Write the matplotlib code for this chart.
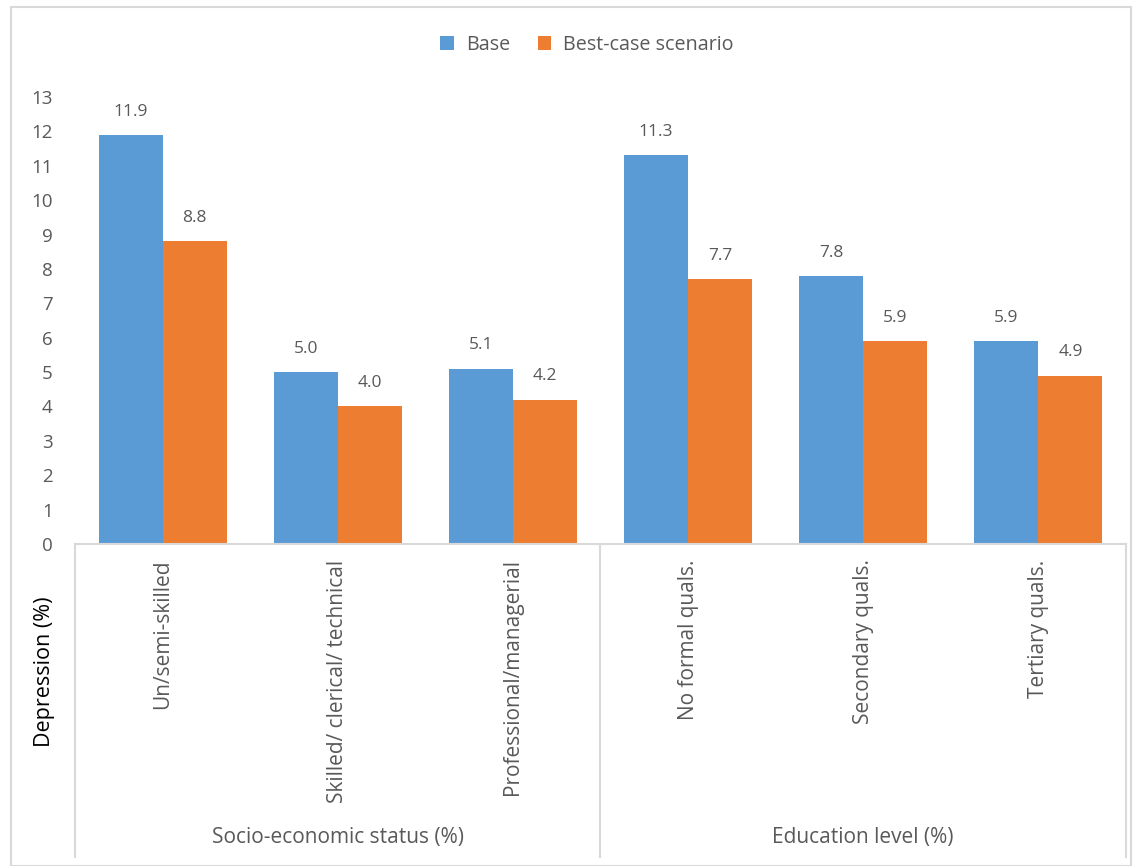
import matplotlib.pyplot as plt
from matplotlib.lines import Line2D
from matplotlib.patches import Rectangle
import numpy as np

plt.rcParams['font.family'] = ['Open Sans', 'DejaVu Sans']

# data
categories = ['Un/semi-skilled', 'Skilled/ clerical/ technical', 'Professional/managerial',
              'No formal quals.', 'Secondary quals.', 'Tertiary quals.']
groups = ['Socio-economic status (%)', 'Education level (%)']
group_sizes = [3, 3]
base = [11.9, 5.0, 5.1, 11.3, 7.8, 5.9]
best_case = [8.8, 4.0, 4.2, 7.7, 5.9, 4.9]
series_names = ['Base', 'Best-case scenario']
colors = ['#5B9BD5', '#ED7D31']
text_grey = '#595959'
line_grey = '#D9D9D9'

W, H = 1142, 866
fig = plt.figure(figsize=(W / 100, H / 100), dpi=100, facecolor='white')

def fx(px):
    return px / W

def fy(py):
    return 1 - py / H

# plot area in pixels
left, right, top, bottom = 75, 1126, 97, 544
ax = fig.add_axes([fx(left), fy(bottom), fx(right - left), (bottom - top) / H])

x = np.arange(len(categories))
bw = 0.365
b1 = ax.bar(x - bw / 2, base, bw, color=colors[0], label=series_names[0])
b2 = ax.bar(x + bw / 2, best_case, bw, color=colors[1], label=series_names[1])

for bars, vals in [(b1, base), (b2, best_case)]:
    for r, v in zip(bars, vals):
        ax.annotate(f'{v:.1f}', (r.get_x() + r.get_width() / 2, v),
                    xytext=(0, 11), textcoords='offset points',
                    ha='center', va='bottom', fontsize=12.5, color=text_grey)

ax.set_xlim(-0.5, len(categories) - 0.5)
ax.set_ylim(0, 13)
ax.set_yticks(range(0, 14))
ax.tick_params(axis='y', length=0, labelsize=13.5, labelcolor=text_grey, pad=16)
ax.set_xticks([])
for s in ['top', 'right', 'left']:
    ax.spines[s].set_visible(False)
ax.spines['bottom'].set_color(line_grey)
ax.spines['bottom'].set_linewidth(1.5)

# category labels, rotated
for i, c in enumerate(categories):
    ax.text(i, -0.45, c, rotation=90, ha='center', va='top', fontsize=15,
            color=text_grey, transform=ax.transData, clip_on=False)

# group separators and group labels
sep_bottom = 857
for px in [left, 600, right]:
    fig.add_artist(Line2D([fx(px), fx(px)], [fy(bottom), fy(sep_bottom)],
                          color=line_grey, lw=1.5))
start = 0
for g, n in zip(groups, group_sizes):
    t = ax.text(start + (n - 1) / 2, 0, g, transform=ax.get_xaxis_transform(), ha='center',
                va='center', fontsize=15, color=text_grey, clip_on=False)
    t.set_position((start + (n - 1) / 2, -(838 - bottom) / (bottom - top)))
    start += n

# outer chart border
fig.add_artist(Rectangle((fx(11), fy(866)), fx(1131 - 11), (866 - 7) / H,
                         fill=False, edgecolor=line_grey, lw=1.5))

fig.text(fx(45), fy(672), 'Depression (%)', rotation=90, ha='center', va='center',
         fontsize=15.5, color='black')

fig.legend(loc='center', bbox_to_anchor=(fx(587), fy(45)), ncol=2, frameon=False,
           fontsize=14.2, handlelength=0.7, handleheight=0.7, handletextpad=0.6,
           columnspacing=1.4, labelcolor=text_grey)

fig.savefig('out.png', dpi=100, facecolor='white')
